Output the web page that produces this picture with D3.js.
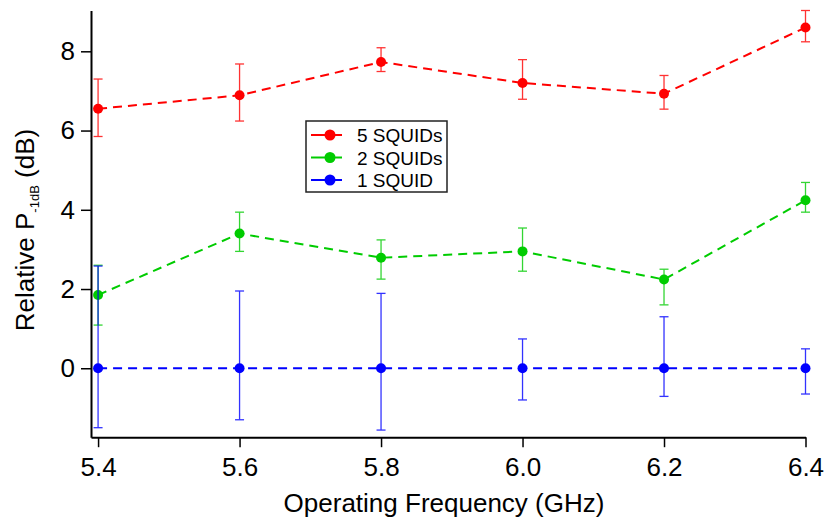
<!DOCTYPE html>
<html>
<head>
<meta charset="utf-8">
<script src="https://cdn.jsdelivr.net/npm/d3@7"></script>
<style>
  body { margin: 0; background: #fff; }
  text { font-family: "Liberation Sans", Arial, sans-serif; }
</style>
</head>
<body>
<div id="chart"></div>
<script>
// data
var freqs = [5.4, 5.6, 5.8, 6.0, 6.2, 6.4];
var xTicks = [5.4, 5.6, 5.8, 6.0, 6.2, 6.4];
var yTicks = [0, 2, 4, 6, 8];

var squid5 = [6.55, 6.89, 7.73, 7.2, 6.93, 8.6];
var squid5Hi = [7.3, 7.68, 8.09, 7.79, 7.39, 9.03];
var squid5Lo = [5.85, 6.24, 7.49, 6.79, 6.54, 8.24];

var squid2 = [1.85, 3.4, 2.79, 2.95, 2.24, 4.24];
var squid2Hi = [2.6, 3.94, 3.24, 3.54, 2.5, 4.69];
var squid2Lo = [1.09, 2.95, 2.25, 2.45, 1.6, 3.94];

var squid1 = [0, 0, 0, 0, 0, 0];
var squid1Hi = [2.58, 1.95, 1.89, 0.74, 1.3, 0.49];
var squid1Lo = [-1.5, -1.3, -1.56, -0.8, -0.71, -0.65];

var seriesNames = ["5 SQUIDs", "2 SQUIDs", "1 SQUID"];
var seriesColors = ["#ff0000", "#00cc00", "#0000ff"];

var W = 825, H = 519;
var svg = d3.select("#chart").append("svg")
  .attr("width", W).attr("height", H);

var x = d3.scaleLinear().domain([5.39, 6.4]).range([91, 805.5]);
var y = d3.scaleLinear().domain([-1.74, 9.03]).range([437.2, 10.5]);

// axes
var xAxis = svg.append("g")
  .attr("transform", "translate(0," + y(-1.74) + ")")
  .call(d3.axisBottom(x).tickValues(xTicks).tickFormat(d3.format(".1f"))
    .tickSize(10).tickSizeOuter(0).tickPadding(10));
var yAxis = svg.append("g")
  .attr("transform", "translate(" + x(5.39) + ",0)")
  .call(d3.axisLeft(y).tickValues(yTicks).tickSize(10).tickSizeOuter(0).tickPadding(6));

[xAxis, yAxis].forEach(function (a) {
  a.select(".domain").attr("stroke", "#000").attr("stroke-width", 2);
  a.selectAll(".tick line").attr("stroke", "#000").attr("stroke-width", 1.5);
  a.selectAll(".tick text").attr("fill", "#000")
    .style("font-size", "26px").style("font-family", "'Liberation Sans', Arial, sans-serif");
});

// axis titles
svg.append("text")
  .attr("x", 444).attr("y", 512)
  .attr("text-anchor", "middle")
  .style("font-size", "26px")
  .text("Operating Frequency (GHz)");

var yl = svg.append("text")
  .attr("transform", "translate(34,230) rotate(-90)")
  .attr("text-anchor", "middle")
  .style("font-size", "26px");
yl.append("tspan").text("Relative P");
yl.append("tspan").attr("dy", 5).style("font-size", "13px").text("-1dB");
yl.append("tspan").attr("dy", -5).text(" (dB)");

// series
var series = [
  { v: squid5, hi: squid5Hi, lo: squid5Lo },
  { v: squid2, hi: squid2Hi, lo: squid2Lo },
  { v: squid1, hi: squid1Hi, lo: squid1Lo }
];

var line = d3.line()
  .x(function (d) { return x(d[0]); })
  .y(function (d) { return y(d[1]); });

series.forEach(function (s, k) {
  var col = seriesColors[k];
  var pts = freqs.map(function (f, i) { return [f, s.v[i], s.hi[i], s.lo[i]]; });
  var g = svg.append("g");

  // error bars
  var eb = g.selectAll(".eb").data(pts).enter().append("g")
    .attr("stroke", col).attr("stroke-width", 1.3).attr("opacity", 0.8);
  eb.append("line")
    .attr("x1", function (d) { return x(d[0]); })
    .attr("x2", function (d) { return x(d[0]); })
    .attr("y1", function (d) { return y(d[2]); })
    .attr("y2", function (d) { return y(d[3]); });
  eb.append("line")
    .attr("x1", function (d) { return x(d[0]) - 4.5; })
    .attr("x2", function (d) { return x(d[0]) + 4.5; })
    .attr("y1", function (d) { return y(d[2]); })
    .attr("y2", function (d) { return y(d[2]); });
  eb.append("line")
    .attr("x1", function (d) { return x(d[0]) - 4.5; })
    .attr("x2", function (d) { return x(d[0]) + 4.5; })
    .attr("y1", function (d) { return y(d[3]); })
    .attr("y2", function (d) { return y(d[3]); });

  g.append("path")
    .attr("d", line(pts))
    .attr("fill", "none")
    .attr("stroke", col)
    .attr("stroke-width", 2)
    .attr("stroke-dasharray", "9,6");

  g.selectAll("circle").data(pts).enter().append("circle")
    .attr("cx", function (d) { return x(d[0]); })
    .attr("cy", function (d) { return y(d[1]); })
    .attr("r", 5)
    .attr("fill", col);
});

// legend
var lg = svg.append("g").attr("transform", "translate(306,121)");
lg.append("rect")
  .attr("width", 141).attr("height", 71)
  .attr("fill", "#fff").attr("stroke", "#222").attr("stroke-width", 1.5);
seriesNames.forEach(function (n, i) {
  var yy = 14 + i * 22.5;
  lg.append("line").attr("x1", 5).attr("x2", 36).attr("y1", yy).attr("y2", yy)
    .attr("stroke", seriesColors[i]).attr("stroke-width", 2);
  lg.append("circle").attr("cx", 24).attr("cy", yy).attr("r", 5.5)
    .attr("fill", seriesColors[i]);
  lg.append("text").attr("x", 51).attr("y", yy + 7)
    .style("font-size", "19px").text(n);
});
</script>
</body>
</html>
